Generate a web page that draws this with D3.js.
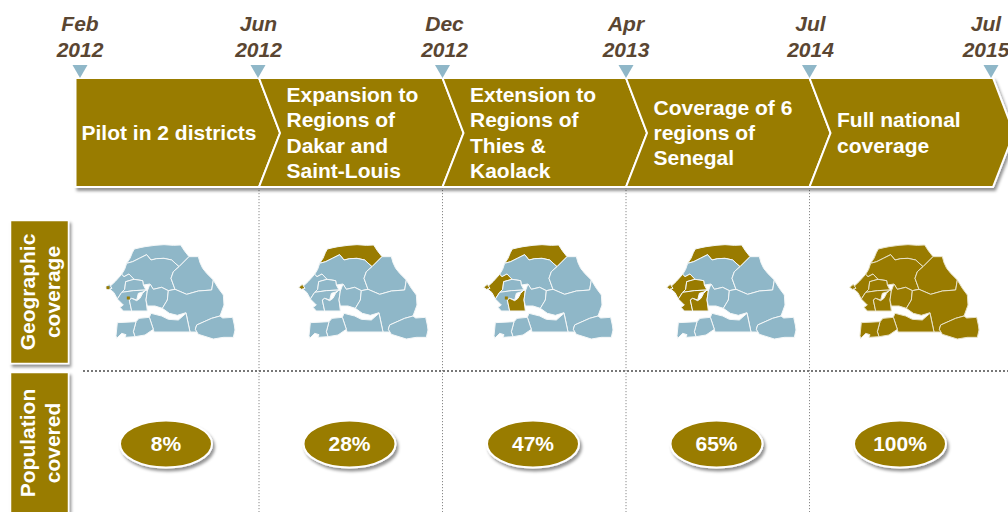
<!DOCTYPE html>
<html><head><meta charset="utf-8">
<script src="https://cdn.jsdelivr.net/npm/d3@7/dist/d3.min.js"></script>
<style>html,body{margin:0;padding:0;background:#fff;overflow:hidden}svg{display:block}text{font-family:"Liberation Sans",Arial,sans-serif;font-weight:700}</style>
</head><body><svg id="c" width="1008" height="512"></svg>
<script>
const dateMonths=["Feb","Jun","Dec","Apr","Jul","Jul"];
const dateYears=["2012","2012","2012","2013","2014","2015"];
const phaseLabels=[["Pilot in 2 districts"],["Expansion to","Regions of","Dakar and","Saint-Louis"],["Extension to","Regions of","Thies &","Kaolack"],["Coverage of 6","regions of","Senegal"],["Full national","coverage"]];
const populationCovered=[8,28,47,65,100];
const rowLabels=[["Geographic","coverage"],["Population","covered"]];
const saintLouis=[[110,100],[120,85],[127,68],[133,57],[150,53],[165,50],[195,46],[222,44],[250,46],[272,45],[283,62],[297,80],[267,110],[245,90],[222,85],[200,86],[183,90],[170,74],[148,85],[128,95]];
const louga=[[110,100],[128,95],[148,85],[170,74],[183,90],[200,86],[222,85],[245,90],[267,110],[250,125],[243,145],[255,178],[235,182],[215,172],[190,178],[180,162],[160,165],[158,152],[132,148],[117,132],[102,140],[95,133],[104,118]];
const matam=[[297,80],[325,80],[330,98],[338,115],[350,130],[370,150],[365,180],[325,183],[290,193],[255,178],[243,145],[250,125],[267,110]];
const thies=[[57,172],[75,155],[95,133],[102,140],[117,132],[132,148],[107,155],[104,178],[95,187],[82,207],[72,188],[60,178]];
const dakar=[[47,172],[58,163],[66,175],[55,178]];
const diourbel=[[107,155],[132,148],[158,152],[160,165],[168,180],[130,182],[95,187],[104,178]];
const fatick=[[95,187],[130,182],[168,180],[158,186],[145,190],[140,210],[125,205],[118,210],[125,243],[100,243],[90,232],[100,225],[82,207]];
const kaolack=[[118,210],[125,205],[140,212],[150,205],[158,190],[168,180],[172,183],[168,210],[172,243],[125,243]];
const kaffrine=[[172,183],[180,162],[190,178],[215,172],[235,182],[232,210],[217,235],[195,228],[172,228],[168,210]];
const tambacounda=[[235,182],[255,178],[290,193],[325,183],[365,180],[370,150],[385,175],[400,195],[402,225],[390,258],[365,265],[320,285],[316,298],[322,306],[300,306],[288,248],[262,256],[238,250],[217,235],[232,210]];
const kedougou=[[320,285],[365,265],[390,258],[398,264],[428,262],[433,285],[435,300],[430,322],[400,322],[370,327],[325,313],[316,298]];
const kolda=[[183,250],[215,258],[235,268],[265,270],[288,250],[300,306],[192,306],[190,298],[178,262]];
const sedhiou=[[147,265],[178,262],[190,298],[165,315],[135,320],[130,305],[138,275]];
const ziguinchor=[[82,278],[138,275],[130,305],[135,320],[105,322],[108,314],[95,310],[80,325],[78,317]];
const regionNames=["Saint-Louis","Louga","Matam","Thies","Dakar","Diourbel","Fatick","Kaolack","Kaffrine","Tambacounda","Kedougou","Kolda","Sedhiou","Ziguinchor"];
const regionShapes=[saintLouis,louga,matam,thies,dakar,diourbel,fatick,kaolack,kaffrine,tambacounda,kedougou,kolda,sedhiou,ziguinchor];
const coveredByStage=[[],["Saint-Louis","Dakar"],["Saint-Louis","Dakar","Thies","Kaolack"],["Saint-Louis","Dakar","Thies","Kaolack","Diourbel","Fatick"],regionNames];
const pilotDistricts=[[54,173],[115,204]];
const GOLD="#997b00",BLUE="#8fb7c8",BROWN="#5a4632";

const svg=d3.select("#c");
const defs=svg.append("defs");
const f=defs.append("filter").attr("id","sh").attr("x","-10%").attr("y","-10%").attr("width","125%").attr("height","130%");
f.append("feDropShadow").attr("dx",2).attr("dy",3).attr("stdDeviation",1.8).attr("flood-color","#000").attr("flood-opacity",.42);

const x=d3.scaleLinear().domain([0,5]).range([75.5,993]);
const yMid=133,yTop=78,yBot=187,tip=21;

svg.append("g").selectAll("line").data(d3.range(1,5)).join("line")
 .attr("x1",i=>x(i)).attr("x2",i=>x(i)).attr("y1",yBot).attr("y2",512)
 .attr("stroke","#8a8a8a").attr("stroke-width",1).attr("stroke-dasharray","1.2 1.8");
svg.append("line").attr("x1",83).attr("x2",1008).attr("y1",371).attr("y2",371)
 .attr("stroke","#777").attr("stroke-width",2).attr("stroke-dasharray","2 2");

const chev=svg.append("g").attr("filter","url(#sh)");
chev.selectAll("path").data(phaseLabels).join("path")
 .attr("d",(d,i)=>{const a=x(i),b=x(i+1);
   const p=[[a,yTop],[b,yTop],[b+tip,yMid],[b,yBot],[a,yBot]];
   if(i>0)p.push([a+tip,yMid]);
   return d3.line()(p)+"Z";})
 .attr("fill",GOLD).attr("stroke","#fff").attr("stroke-width",2);

const lh=25.4;
phaseLabels.forEach((lines,i)=>{
  const tx=i===0?x(0)+6:x(i)+27.5;
  const start=140-(lines.length-1)*lh/2;
  svg.append("g").selectAll("text").data(lines).join("text")
   .attr("x",tx).attr("y",(d,k)=>start+k*lh).attr("fill","#fff").attr("font-size",21).text(d=>d);
});

const markerShift=[4.5,-1,0,0,0,-2];
svg.append("g").selectAll("path").data(dateMonths).join("path")
 .attr("transform",(d,i)=>`translate(${x(i)+markerShift[i]},65)`)
 .attr("d","M-7.5,0H7.5L0,13Z").attr("fill",BLUE);
const dateShift=[4.5,-0.5,2,0,1,-7];
const dateX=i=>x(i)+dateShift[i];
svg.append("g").selectAll("text").data(dateMonths).join("text")
 .attr("x",(d,i)=>dateX(i)).attr("y",31).attr("text-anchor","middle").attr("fill",BROWN)
 .attr("font-size",21).attr("font-style","italic").text(d=>d);
svg.append("g").selectAll("text").data(dateYears).join("text")
 .attr("x",(d,i)=>dateX(i)).attr("y",57).attr("text-anchor","middle").attr("fill",BROWN)
 .attr("font-size",21).attr("font-style","italic").text(d=>d);

const boxes=[[220.5,363.5],[372.5,520]];
rowLabels.forEach((lines,r)=>{
  const [t,b]=boxes[r];
  svg.append("rect").attr("x",10.5).attr("y",t).attr("width",58).attr("height",b-t)
   .attr("fill",GOLD).attr("stroke","#fff").attr("stroke-width",1.5).attr("filter","url(#sh)");
  const cy=r===0?292:443;
  lines.forEach((s,k)=>{
    svg.append("text").attr("transform",`translate(${35+k*25.4},${cy}) rotate(-90)`)
     .attr("text-anchor","middle").attr("fill","#fff").attr("font-size",21).text(s);
  });
});

const mapLeft=[90,283,468,651,834];
const scaleMap=d3.scaleLinear().domain([0,480]).range([0,160]);
const line2=d3.line().x(d=>scaleMap(d[0])).y(d=>scaleMap(d[1]));
coveredByStage.forEach((cov,s)=>{
  const g=svg.append("g").attr("transform",`translate(${mapLeft[s]},230)`);
  g.selectAll("path").data(regionNames).join("path")
   .attr("d",(n,i)=>line2(regionShapes[i])+"Z")
   .attr("fill",n=>cov.includes(n)?GOLD:BLUE)
   .attr("stroke",s===4?"#e8e2c8":"#f4f7f8").attr("stroke-width",1).attr("stroke-linejoin","round");
  if(s===0||s===2){
    const pts=s===0?pilotDistricts:[pilotDistricts[1]];
    g.selectAll("rect").data(pts).join("rect")
     .attr("x",d=>scaleMap(d[0])-1.5).attr("y",d=>scaleMap(d[1])-1.5)
     .attr("width",3).attr("height",3).attr("fill",GOLD);
  }
});

const oval=svg.append("g");
populationCovered.forEach((v,i)=>{
  const cx=x(i)+90.5;
  oval.append("ellipse").attr("cx",cx).attr("cy",444).attr("rx",46).attr("ry",23.5)
   .attr("fill",GOLD).attr("stroke","#fff").attr("stroke-width",2).attr("filter","url(#sh)");
  oval.append("text").attr("x",cx).attr("y",451).attr("text-anchor","middle").attr("fill","#fff")
   .attr("font-size",21).text(v+"%");
});
</script></body></html>
